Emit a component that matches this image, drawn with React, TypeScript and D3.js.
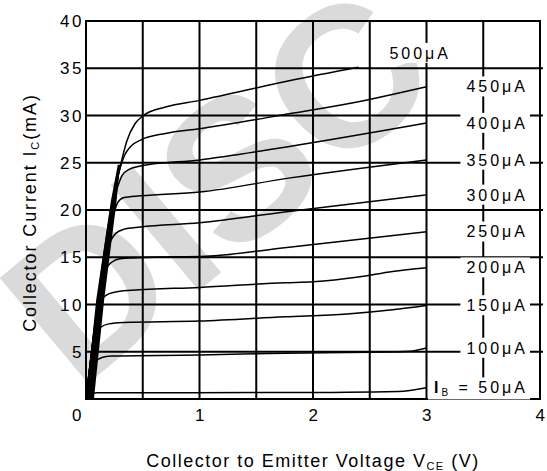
import React, { useEffect, useRef } from 'react'
import * as d3 from 'd3'

type Pt = [number, number]

// base currents in μA, one curve each (VCE in V, IC in mA)
const baseCurrents = [50, 100, 150, 200, 250, 300, 350, 400, 450, 500]

const curve50: Pt[] = [[0, 0], [0.012, 0.5], [0.05, 0.62], [0.1, 0.65], [1.75, 0.68], [2.75, 0.8], [3, 1.2]]
const curve100: Pt[] = [[0, 0], [0.04, 3.0], [0.08, 3.9], [0.14, 4.4], [0.22, 4.55], [1.0, 4.65], [1.75, 4.85], [2.5, 4.95], [2.85, 5.05], [3, 5.4]]
const curve150: Pt[] = [[0, 0], [0.095, 7.0], [0.13, 7.6], [0.2, 7.95], [0.33, 8.1], [1.0, 8.25], [1.75, 8.7], [2.3, 9.0], [2.7, 9.45], [3, 9.9]]
const curve200: Pt[] = [[0, 0], [0.14, 10.5], [0.18, 11.0], [0.25, 11.3], [0.4, 11.5], [1.0, 11.8], [1.75, 12.3], [2.0, 12.4], [2.4, 12.9], [2.7, 13.5], [3, 13.9]]
const curve250: Pt[] = [[0, 0], [0.19, 14.0], [0.23, 14.5], [0.3, 14.85], [0.6, 15.0], [1.05, 15.1], [1.75, 16.0], [3, 17.7]]
const curve300: Pt[] = [[0, 0], [0.22, 16.8], [0.26, 17.5], [0.33, 17.95], [0.48, 18.2], [1.0, 18.65], [1.75, 19.8], [3, 21.6]]
const curve350: Pt[] = [[0, 0], [0.25, 19.8], [0.28, 20.8], [0.33, 21.3], [0.48, 21.5], [1.0, 21.9], [1.8, 23.4], [3, 25.3]]
const curve400: Pt[] = [[0, 0], [0.28, 22.5], [0.32, 23.7], [0.38, 24.3], [0.48, 24.65], [1.0, 25.3], [1.78, 26.7], [3, 29.2]]
const curve450: Pt[] = [[0, 0], [0.29, 24.0], [0.34, 25.8], [0.4, 26.8], [0.48, 27.4], [0.7, 28.1], [1.0, 28.6], [1.8, 30.2], [2.33, 31.3], [3, 33.05]]
const curve500: Pt[] = [[0, 0], [0.3, 24.5], [0.36, 27.3], [0.43, 29.1], [0.5, 29.95], [0.7, 30.9], [1.0, 31.6], [1.8, 33.7], [2.4, 35.1]]

const curves = [curve50, curve100, curve150, curve200, curve250, curve300, curve350, curve400, curve450, curve500]

// the thick saturation band where all curves overlap near the origin
const saturationBand: Pt[] = [[0, 0], [0.09, 10.5], [0.22, 21], [0.28, 24.8], [0.3, 24.8], [0.27, 21], [0.16, 10.5], [0.07, 0]]

const xTicks = [0, 1, 2, 3, 4]
const yTicks = [5, 10, 15, 20, 25, 30, 35, 40]
const xGrid = [0.5, 1, 1.5, 2, 2.5, 3, 3.5]
const yGrid = [5, 10, 15, 20, 25, 30, 35]

const FONT = '"Liberation Sans", Arial, Helvetica, sans-serif'

export default function App() {
  const ref = useRef<HTMLDivElement | null>(null)

  useEffect(() => {
    const container = d3.select(ref.current!)
    container.selectAll('*').remove()
    const width = 547
    const height = 471
    const svg = container.append('svg')
      .attr('width', width).attr('height', height)
      .style('position', 'absolute').style('left', '0px').style('top', '0px')
      .style('background', '#fff')
      .attr('font-family', FONT)

    const x = d3.scaleLinear().domain([0, 4]).range([86, 540])
    const y = d3.scaleLinear().domain([0, 40]).range([399, 21])

    // watermark
    svg.append('text')
      .attr('transform', 'translate(78,392) rotate(-40)')
      .attr('font-size', 200).attr('font-weight', 700)
      .attr('fill', '#dadada')
      .text('DISC')

    const grid = svg.append('g').attr('stroke', '#000').attr('stroke-width', 2)
    grid.selectAll('line.h').data(yGrid).enter().append('line')
      .attr('x1', x(0)).attr('x2', x(4) + 3)
      .attr('y1', d => y(d)).attr('y2', d => y(d))
    grid.selectAll('line.v').data(xGrid).enter().append('line')
      .attr('y1', y(0)).attr('y2', y(40))
      .attr('x1', d => x(d)).attr('x2', d => x(d))
    grid.append('rect')
      .attr('x', x(0)).attr('y', y(40))
      .attr('width', x(4) - x(0)).attr('height', y(0) - y(40))
      .attr('fill', 'none')

    const line = d3.line<Pt>().x(d => x(d[0])).y(d => y(d[1])).curve(d3.curveMonotoneX)
    svg.append('path')
      .attr('d', d3.line<Pt>().x(d => x(d[0])).y(d => y(d[1]))(saturationBand) + 'Z')
      .attr('fill', '#000')
    svg.append('g').selectAll('path').data(curves).enter().append('path')
      .attr('d', d => line(d))
      .attr('fill', 'none').attr('stroke', '#000').attr('stroke-width', 1.5)

    // curve labels with white boxes covering the grid
    const labels = svg.append('g').attr('font-size', 16).attr('letter-spacing', 3)
    baseCurrents.forEach((c, i) => {
      const pts = curves[i]
      const end = pts[pts.length - 1]
      const isTop = i === baseCurrents.length - 1
      const lx = isTop ? 451 : 528
      const ly = isTop ? y(36.6) : y(end[1])
      const g = labels.append('g')
      const t = g.append('text').attr('x', lx).attr('y', ly).attr('dy', '0.36em').attr('text-anchor', 'end')
      if (i === 0) {
        t.append('tspan').attr('font-weight', 700).text('I')
        t.append('tspan').attr('font-size', 10).attr('dy', 3).text('B')
        t.append('tspan').attr('dy', -3).text(' = 50\u03bcA')
      } else {
        t.text(`${c}\u03bcA`)
      }
      const bb = (t.node() as SVGTextElement).getBBox()
      g.insert('rect', 'text')
        .attr('x', bb.x - 6).attr('y', bb.y - 2)
        .attr('width', bb.width + 8).attr('height', bb.height + 3)
        .attr('fill', '#fff')
    })

    // tick labels
    const ticks = svg.append('g').attr('font-size', 17).attr('letter-spacing', 2.5).attr('fill', '#000')
    ticks.selectAll('text.x').data(xTicks).enter().append('text')
      .attr('x', d => d === 0 ? x(0) - 8 : x(d) + 1.5).attr('y', 421)
      .attr('text-anchor', 'middle').text(d => String(d))
    ticks.selectAll('text.y').data(yTicks).enter().append('text')
      .attr('x', 84).attr('y', d => y(d)).attr('dy', '0.36em')
      .attr('text-anchor', 'end').text(d => String(d))

    // axis titles
    const xt = svg.append('text').attr('x', x(2)).attr('y', 467)
      .attr('text-anchor', 'middle').attr('font-size', 18).attr('letter-spacing', 1.5)
    xt.append('tspan').text('Collector to Emitter Voltage V')
    xt.append('tspan').attr('font-size', 11).attr('dy', 3).text('CE')
    xt.append('tspan').attr('dy', -3).text(' (V)')

    const yt = svg.append('text').attr('transform', `translate(36,${(92 + 333) / 2}) rotate(-90)`)
      .attr('text-anchor', 'middle').attr('font-size', 18).attr('letter-spacing', 1.9)
    yt.append('tspan').text('Collector Current I')
    yt.append('tspan').attr('font-size', 11).attr('dy', 3).text('C')
    yt.append('tspan').attr('dy', -3).text('(mA)')
  }, [])

  return <div ref={ref} />
}
